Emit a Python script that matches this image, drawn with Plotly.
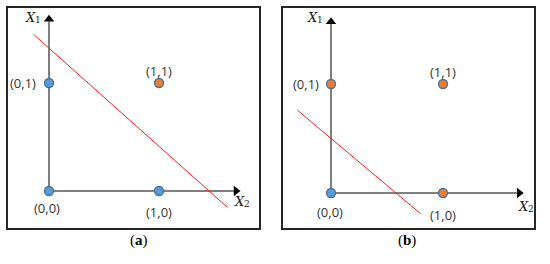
import plotly.graph_objects as go

# ---- data ----
point_x = [0, 0, 1, 1]
point_y = [0, 1, 0, 1]
point_labels = ["(0,0)", "(0,1)", "(1,0)", "(1,1)"]
class_a = [0, 0, 0, 1]   # (a) AND-like separation
class_b = [0, 1, 1, 1]   # (b) OR-like separation
line_a_x = [-0.14, 1.62]
line_a_y = [1.45, -0.15]
line_b_x = [-0.30, 0.80]
line_b_y = [0.76, -0.19]
panel_titles = ["a", "b"]
axis_letter = "X"
axis_subs = ["1", "2"]

W, H = 550, 264
BLUE = "#5B9BD5"
ORANGE = "#ED7D31"
EDGE = "#41719C"
AXIS_GRAY = "#7F7F7F"

# pixel geometry of each panel: box, origin and unit sizes
panels = [
    dict(box=(8, 259, 8, 228), ox=49, oy=191, ux=110, uy=108, ytop=1.62, xend=1.73,
         classes=class_a, lx=line_a_x, ly=line_a_y, title_x=128,
         lab_off={"(0,0)": (-2, 17), "(0,1)": (-26, 0), "(1,0)": (0, 21), "(1,1)": (0, -12)},
         x1=(33, 17), x2=(242, 201)),
    dict(box=(283, 534, 8, 228), ox=331, oy=193, ux=112, uy=109, ytop=1.60, xend=1.71,
         classes=class_b, lx=line_b_x, ly=line_b_y, title_x=418,
         lab_off={"(0,0)": (-1, 19), "(0,1)": (-25, 0), "(1,0)": (0, 22), "(1,1)": (0, -12)},
         x1=(315, 17), x2=(526, 206)),
]

fig = go.Figure()
layout = {}
annotations = []
for i, p in enumerate(panels):
    xa = "x" if i == 0 else "x2"
    ya = "y" if i == 0 else "y2"
    x0, x1p, y0, y1p = p["box"]
    rx = [(x0 - p["ox"]) / p["ux"], (x1p - p["ox"]) / p["ux"]]
    ry = [(p["oy"] - y1p) / p["uy"], (p["oy"] - y0) / p["uy"]]
    axkey = "xaxis" if i == 0 else "xaxis2"
    aykey = "yaxis" if i == 0 else "yaxis2"
    layout[axkey] = dict(domain=[x0 / W, x1p / W], range=rx, showgrid=False, zeroline=False,
                         showticklabels=False, ticks="", showline=True, mirror=True,
                         linecolor="#262626", linewidth=1.5, anchor=ya, fixedrange=True)
    layout[aykey] = dict(domain=[1 - y1p / H, 1 - y0 / H], range=ry, showgrid=False, zeroline=False,
                         showticklabels=False, ticks="", showline=True, mirror=True,
                         linecolor="#262626", linewidth=1.5, anchor=xa, fixedrange=True)
    # axes lines
    fig.add_trace(go.Scatter(x=[0, 0], y=[0, p["ytop"] - 0.05], mode="lines",
                             line=dict(color=AXIS_GRAY, width=2), xaxis=xa, yaxis=ya,
                             showlegend=False, hoverinfo="skip"))
    fig.add_trace(go.Scatter(x=[0, p["xend"] - 0.05], y=[0, 0], mode="lines",
                             line=dict(color=AXIS_GRAY, width=2), xaxis=xa, yaxis=ya,
                             showlegend=False, hoverinfo="skip"))
    # arrow heads
    fig.add_trace(go.Scatter(x=[0], y=[p["ytop"] - 0.03], mode="markers",
                             marker=dict(symbol="triangle-up", size=9, color="black"),
                             xaxis=xa, yaxis=ya, showlegend=False, hoverinfo="skip"))
    fig.add_trace(go.Scatter(x=[p["xend"] - 0.03], y=[0], mode="markers",
                             marker=dict(symbol="triangle-right", size=9, color="black"),
                             xaxis=xa, yaxis=ya, showlegend=False, hoverinfo="skip"))
    # red separating line
    fig.add_trace(go.Scatter(x=p["lx"], y=p["ly"], mode="lines",
                             line=dict(color="#FF1A1A", width=1),
                             xaxis=xa, yaxis=ya, showlegend=False, hoverinfo="skip"))
    # points
    colors = [ORANGE if c else BLUE for c in p["classes"]]
    fig.add_trace(go.Scatter(x=point_x, y=point_y, mode="markers",
                             marker=dict(size=9, color=colors, line=dict(color=EDGE, width=1.3)),
                             xaxis=xa, yaxis=ya, showlegend=False, hoverinfo="skip"))
    # point labels
    for px, py, lab in zip(point_x, point_y, point_labels):
        dx, dy = p["lab_off"][lab]
        annotations.append(dict(x=px, y=py, xref=xa, yref=ya, text=lab, showarrow=False,
                                xshift=dx, yshift=-dy,
                                font=dict(family="Open Sans, Noto Sans, sans-serif", size=13, color="#333333")))
    # axis name labels: italic X plus small subscript
    for (ax_px, ay_px), sub in zip([p["x1"], p["x2"]], axis_subs):
        annotations.append(dict(x=(ax_px - 3) / W, y=1 - ay_px / H, xref="paper", yref="paper",
                                text="<i>" + axis_letter + "</i>", showarrow=False,
                                xanchor="center", yanchor="middle",
                                font=dict(family="DejaVu Serif, serif", size=13, color="#222222")))
        annotations.append(dict(x=(ax_px + 5) / W, y=1 - (ay_px + 3) / H, xref="paper", yref="paper",
                                text=sub, showarrow=False, xanchor="center", yanchor="middle",
                                font=dict(family="DejaVu Serif, serif", size=9, color="#222222")))
    # panel title
    annotations.append(dict(x=p["title_x"] / W, y=1 - 251 / H, xref="paper", yref="paper",
                            text="(<b>" + panel_titles[i] + "</b>)", showarrow=False,
                            font=dict(family="Liberation Serif, serif", size=15, color="black")))

fig.update_layout(width=W, height=H, margin=dict(l=0, r=0, t=0, b=0),
                  plot_bgcolor="white", paper_bgcolor="white",
                  annotations=annotations, **layout)
fig.write_html("out.html", config={"displayModeBar": False},
               post_script="document.body.style.margin='0px';document.body.style.overflow='hidden';")
